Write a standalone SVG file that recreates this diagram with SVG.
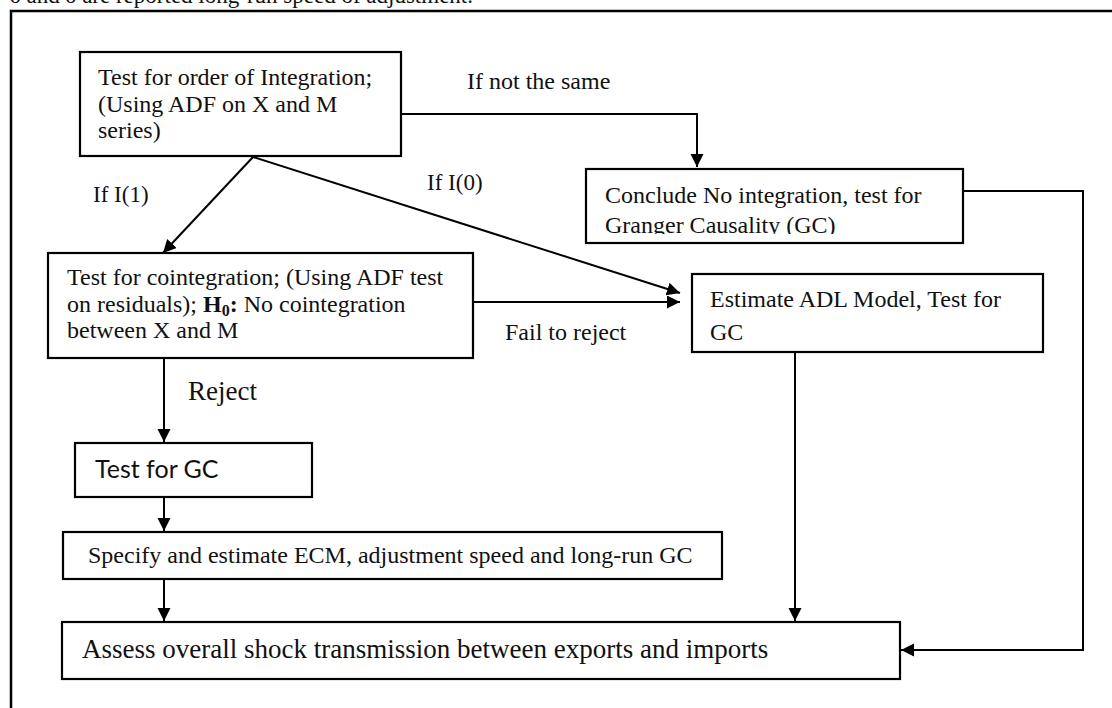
<svg xmlns="http://www.w3.org/2000/svg" width="1112" height="708" viewBox="0 0 1112 708">
<style>
.box{fill:#fff;stroke:#000;stroke-width:2.2}
.t{font-family:"Liberation Serif","Times New Roman",serif;font-size:24px;fill:#111}
.lbl{font-family:"Liberation Serif","Times New Roman",serif;font-size:24px;fill:#111}
.sans{font-family:Lato,"Liberation Sans",sans-serif;font-size:25px;fill:#111}
.c{fill:none;stroke:#000;stroke-width:2}
</style>
<defs>
<marker id="ah" markerUnits="userSpaceOnUse" markerWidth="14" markerHeight="14" refX="13" refY="6.5" orient="auto">
<path d="M0,0 L13,6.5 L0,13 z" fill="#000"/>
</marker>
<clipPath id="clipConclude"><rect x="588" y="171" width="373" height="63"/></clipPath>
</defs>
<rect width="1112" height="708" fill="#fff"/>
<text x="10" y="3" class="t" style="font-size:23px">δ and δ are reported long-run speed of adjustment.</text>
<path d="M11,708 V11 H1112" fill="none" stroke="#000" stroke-width="2.5"/>

<g id="connectors">
<path class="c" d="M401,114 H697 V167" marker-end="url(#ah)"/>
<path class="c" d="M963,191 H1083 V650 H901" marker-end="url(#ah)"/>
<path class="c" d="M253,157 L163,253" marker-end="url(#ah)"/>
<path class="c" d="M253,157 L680,293" marker-end="url(#ah)"/>
<path class="c" d="M473,302 H680" marker-end="url(#ah)"/>
<path class="c" d="M795,352 V621" marker-end="url(#ah)"/>
<path class="c" d="M164,358 V442" marker-end="url(#ah)"/>
<path class="c" d="M164,497 V531" marker-end="url(#ah)"/>
<path class="c" d="M164,579 V621" marker-end="url(#ah)"/>
<text class="lbl" x="467" y="89">If not the same</text>
<text class="lbl" x="93" y="202" style="font-size:23px">If I(1)</text>
<text class="lbl" x="427" y="190" style="font-size:23px">If I(0)</text>
<text class="lbl" x="505" y="340">Fail to reject</text>
<text class="lbl" x="188" y="400" style="font-size:27px">Reject</text>
</g>

<g id="order">
<rect class="box" x="80" y="52" width="321" height="104"/>
<text class="t" x="98" y="85">Test for order of Integration;</text>
<text class="t" x="98" y="112">(Using ADF on X and M</text>
<text class="t" x="98" y="138">series)</text>
</g>

<g id="conclude">
<rect class="box" x="586" y="169" width="377" height="74"/>
<g clip-path="url(#clipConclude)">
<text class="t" x="605" y="203">Conclude No integration, test for</text>
<text class="t" x="605" y="233">Granger Causality (GC)</text>
</g>
</g>

<g id="cointegration">
<rect class="box" x="48" y="253" width="425" height="105"/>
<text class="t" x="67" y="285">Test for cointegration; (Using ADF test</text>
<text class="t" x="67" y="312">on residuals); <tspan font-weight="bold">H<tspan font-size="16" dy="4">0</tspan><tspan dy="-4">:</tspan></tspan> No cointegration</text>
<text class="t" x="67" y="338">between X and M</text>
</g>

<g id="adl">
<rect class="box" x="692" y="274" width="351" height="78"/>
<text class="t" x="710" y="307">Estimate ADL Model, Test for</text>
<text class="t" x="710" y="340">GC</text>
</g>

<g id="testgc">
<rect class="box" x="75" y="443" width="237" height="54"/>
<text class="sans" x="95" y="478">Test for GC</text>
</g>

<g id="ecm">
<rect class="box" x="63" y="532" width="659" height="47"/>
<text class="t" x="88" y="563">Specify and estimate ECM, adjustment speed and long-run GC</text>
</g>

<g id="assess">
<rect class="box" x="62" y="622" width="838" height="57"/>
<text class="t" x="82" y="658" style="font-size:27px">Assess overall shock transmission between exports and imports</text>
</g>
</svg>
